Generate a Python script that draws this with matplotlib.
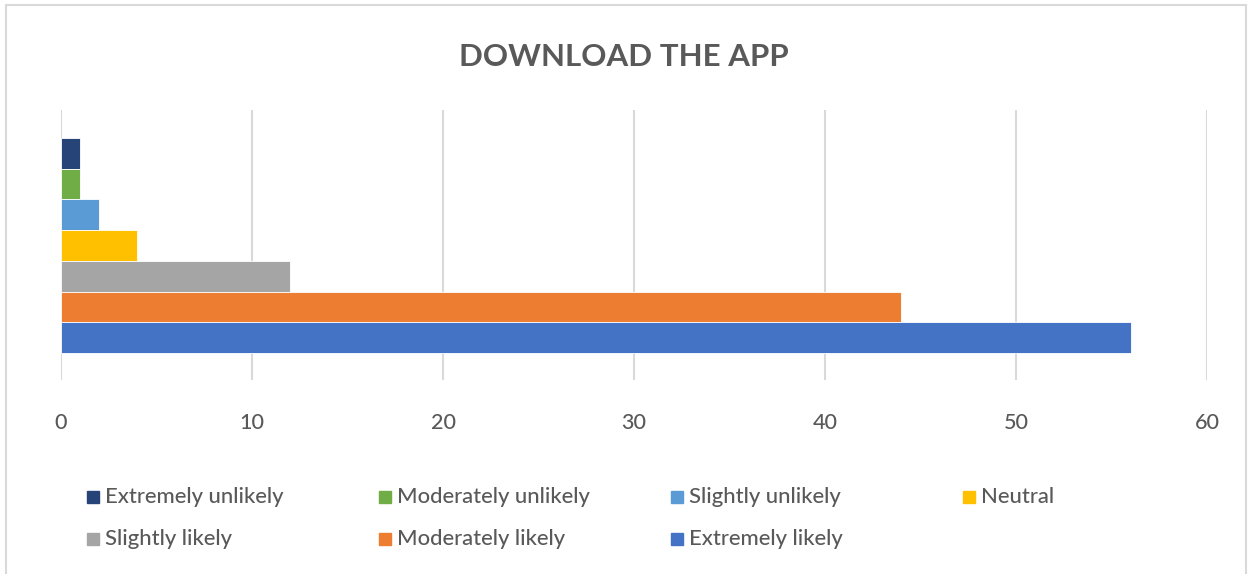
import matplotlib.pyplot as plt
from matplotlib.patches import Rectangle

plt.rcParams['font.family'] = ['Lato', 'DejaVu Sans']

# survey answers, top bar first
labels = ['Extremely unlikely', 'Moderately unlikely', 'Slightly unlikely', 'Neutral',
          'Slightly likely', 'Moderately likely', 'Extremely likely']
counts = [1, 1, 2, 4, 12, 44, 56]
colors = ['#264478', '#70AD47', '#5B9BD5', '#FFC000', '#A5A5A5', '#ED7D31', '#4472C4']
xticks = [0, 10, 20, 30, 40, 50, 60]

txt = '#595959'
W, H = 1248, 574
fig = plt.figure(figsize=(W / 100, H / 100), dpi=100)
ax = fig.add_axes([61 / W, 1 - 380 / H, (1207 - 61) / W, 270 / H])

n = len(labels)
ypos = [n - 1 - i for i in range(n)]
ax.barh(ypos, counts, height=1.0, color=colors, edgecolor='white', linewidth=0.6, zorder=3)

ax.set_xlim(0, 60)
ax.set_ylim(-0.5 - 0.88, n - 0.5 + 0.91)
ax.set_xticks(xticks)
ax.set_yticks([])
ax.grid(axis='x', color='#d9d9d9', linewidth=1.5, zorder=0)
for s in ax.spines.values():
    s.set_visible(False)
ax.tick_params(axis='x', length=0, pad=24, labelsize=15.5, labelcolor=txt)
for t in ax.get_xticklabels():
    t.set_fontweight('medium')

fig.text(0.5, 1 - 57 / H, 'DOWNLOAD THE APP', ha='center', va='center',
         fontsize=22.5, fontweight='bold', color=txt)

# legend laid out row by row, four per row
for i, (lab, c) in enumerate(zip(labels, colors)):
    col, row = i % 4, i // 4
    x0 = 87 + col * 292
    y0 = 497 + row * 42
    fig.patches.append(Rectangle((x0 / W, 1 - (y0 + 6) / H), 12 / W, 12 / H,
                                 transform=fig.transFigure, color=c))
    fig.text((x0 + 18) / W, 1 - y0 / H, lab, ha='left', va='center',
             fontsize=15.8, fontweight='medium', color=txt)

# chart area border
fig.patches.append(Rectangle((6 / W, -0.02), 1240 / W, 1.02 - 5 / H,
                             transform=fig.transFigure, fill=False,
                             edgecolor='#d9d9d9', linewidth=1.5))

fig.savefig('out.png', dpi=100)
